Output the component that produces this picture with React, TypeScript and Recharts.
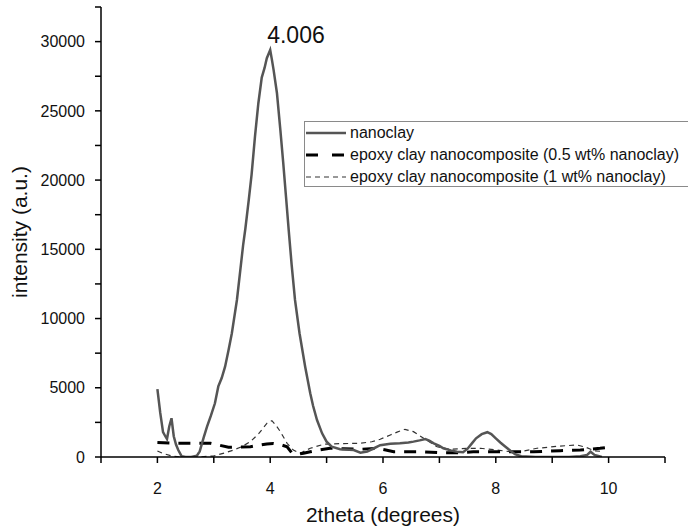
import { CartesianGrid, LabelList, Line, LineChart, XAxis, YAxis } from 'recharts';

// 2theta (degrees) vs intensity (a.u.)
const nanoclay: [number, number][] = [
  [2.0, 4900], [2.05, 3200], [2.1, 1800], [2.14, 1500], [2.17, 1300], [2.21, 2200],
  [2.25, 2800], [2.29, 1500], [2.33, 900], [2.37, 500], [2.43, 50], [2.5, 0],
  [2.6, 0], [2.7, 100], [2.75, 400], [2.82, 1400], [2.88, 2190], [2.95, 3000],
  [3.02, 3880], [3.08, 5100], [3.14, 5700], [3.2, 6520], [3.26, 7700], [3.32, 8940],
  [3.41, 11340], [3.47, 13500], [3.52, 15300], [3.56, 16500], [3.62, 18570], [3.67, 20400],
  [3.73, 23140], [3.79, 25550], [3.85, 27400], [3.9, 28100], [3.94, 28800], [4.0, 29400],
  [4.03, 28700], [4.06, 27960], [4.12, 26270], [4.18, 23620], [4.23, 21300], [4.28, 18800],
  [4.33, 16300], [4.38, 13900], [4.44, 11340], [4.52, 8940], [4.62, 6520], [4.71, 4600],
  [4.76, 3700], [4.83, 2670], [4.92, 1710], [5.0, 1110], [5.09, 740], [5.24, 560],
  [5.48, 500], [5.6, 310], [5.72, 400], [5.85, 650], [5.95, 850], [6.13, 950],
  [6.3, 990], [6.45, 1050], [6.54, 1110], [6.65, 1200], [6.75, 1300], [6.82, 1180],
  [6.9, 990], [7.0, 800], [7.07, 630], [7.2, 480], [7.31, 380], [7.42, 350],
  [7.5, 600], [7.58, 1000], [7.65, 1350], [7.75, 1650], [7.85, 1790], [7.92, 1650],
  [8.0, 1350], [8.08, 1050], [8.16, 780], [8.26, 450], [8.34, 200], [8.45, 50],
  [8.7, 0], [9.0, 0], [9.3, 0], [9.5, 50], [9.62, 150], [9.68, 380],
  [9.75, 150], [9.88, 0],
];

const epoxyHalf: [number, number][] = [
  [2.0, 1050], [2.3, 1000], [2.6, 1000], [2.94, 990], [3.1, 850], [3.26, 700],
  [3.45, 720], [3.65, 740], [3.8, 850], [3.94, 940], [4.05, 980], [4.18, 900],
  [4.3, 740], [4.38, 310], [4.48, 200], [4.59, 270], [4.71, 380], [4.85, 500],
  [5.06, 630], [5.3, 600], [5.6, 560], [5.89, 630], [6.05, 500], [6.19, 380],
  [6.7, 380], [7.0, 310], [7.37, 310], [7.6, 380], [8.2, 380], [8.67, 380],
  [9.14, 460], [9.5, 500], [9.85, 630], [9.95, 680],
];

const epoxyOne: [number, number][] = [
  [2.0, 430], [2.1, 250], [2.26, 70], [2.4, 0], [2.7, 0], [2.99, 70],
  [3.2, 300], [3.35, 500], [3.5, 750], [3.65, 1110], [3.8, 1700], [3.94, 2430],
  [4.03, 2620], [4.1, 2300], [4.18, 1830], [4.3, 990], [4.41, 500], [4.53, 270],
  [4.71, 630], [4.95, 920], [5.3, 970], [5.6, 990], [5.8, 1100], [5.95, 1280],
  [6.13, 1590], [6.25, 1800], [6.39, 2000], [6.54, 1830], [6.72, 1350], [6.96, 740],
  [7.19, 560], [7.49, 630], [7.73, 630], [8.02, 500], [8.26, 380], [8.43, 380],
  [8.73, 630], [9.14, 790], [9.44, 870], [9.6, 700], [9.75, 450], [9.9, 400],
];

const xTicks = [1, 2, 3, 4, 5, 6, 7, 8, 9, 10, 11];
const yTicks = [0, 2500, 5000, 7500, 10000, 12500, 15000, 17500, 20000, 22500, 25000, 27500, 30000, 32500];
const peakLabel = '4.006';

const FONT = '"Liberation Sans", Arial, sans-serif';

const toRows = (pts: [number, number][]) => pts.map(([x, y]) => ({ x, y }));

const peakIndex = nanoclay.reduce((best, p, i) => (p[1] > nanoclay[best][1] ? i : best), 0);

function PeakLabel(props: any) {
  if (props.index !== peakIndex) return null;
  return (
    <text x={props.x - 3} y={props.y - 7} fontSize={23} fontFamily={FONT} fill="#111">
      {peakLabel}
    </text>
  );
}

function LegendBox() {
  const rows = [
    { name: 'nanoclay', stroke: '#555', width: 2.5, dash: undefined },
    { name: 'epoxy clay nanocomposite (0.5 wt% nanoclay)', stroke: '#000', width: 3, dash: '12 14' },
    { name: 'epoxy clay nanocomposite (1 wt% nanoclay)', stroke: '#333', width: 1.2, dash: '5 4' },
  ];
  return (
    <div
      style={{
        position: 'absolute',
        left: 304,
        top: 121,
        width: 400,
        height: 64,
        border: '1px solid #8a8a8a',
        background: '#fff',
        fontFamily: FONT,
        fontSize: 16,
        color: '#111',
      }}
    >
      {rows.map((r) => (
        <div key={r.name} style={{ display: 'flex', alignItems: 'center', height: 22, whiteSpace: 'nowrap' }}>
          <svg width={42} height={22} style={{ flex: 'none' }}>
            <line x1={1} x2={41} y1={11} y2={11} stroke={r.stroke} strokeWidth={r.width} strokeDasharray={r.dash} />
          </svg>
          <span style={{ marginLeft: 3 }}>{r.name}</span>
        </div>
      ))}
    </div>
  );
}

export default function App() {
  return (
    <div style={{ position: 'absolute', left: 0, top: 0, width: 688, height: 529, overflow: 'hidden', background: '#fff' }}>
      <LineChart width={688} height={529} margin={{ top: 7, right: 23, bottom: 42, left: 41 }}>
        <CartesianGrid stroke="none" />
        <XAxis
          dataKey="x"
          type="number"
          domain={[1, 11]}
          ticks={xTicks}
          interval={0}
          height={30}
          tickFormatter={(v: number) => (v % 2 === 0 ? String(v) : '')}
          tick={{ fontSize: 16, fill: '#111', fontFamily: FONT }}
          tickMargin={20}
          tickSize={6}
          axisLine={{ stroke: '#000', strokeWidth: 1.5 }}
          tickLine={{ stroke: '#000', strokeWidth: 1.5 }}
          allowDataOverflow
        />
        <YAxis
          type="number"
          domain={[0, 32500]}
          ticks={yTicks}
          interval={0}
          width={60}
          tickFormatter={(v: number) => (v % 5000 === 0 ? String(v) : '')}
          tick={{ fontSize: 16, fill: '#111', fontFamily: FONT }}
          tickMargin={10}
          tickSize={6}
          axisLine={{ stroke: '#000', strokeWidth: 1.5 }}
          tickLine={{ stroke: '#000', strokeWidth: 1.5 }}
          allowDataOverflow
        />
        <Line
          data={toRows(epoxyOne)}
          dataKey="y"
          type="linear"
          stroke="#333"
          strokeWidth={1.2}
          strokeDasharray="5 4"
          dot={false}
          activeDot={false}
          isAnimationActive={false}
        />
        <Line
          data={toRows(epoxyHalf)}
          dataKey="y"
          type="linear"
          stroke="#000"
          strokeWidth={3}
          strokeDasharray="12 9"
          dot={false}
          activeDot={false}
          isAnimationActive={false}
        />
        <Line
          data={toRows(nanoclay)}
          dataKey="y"
          type="linear"
          stroke="#555"
          strokeWidth={2.5}
          dot={false}
          activeDot={false}
          isAnimationActive={false}
        >
          <LabelList dataKey="y" content={PeakLabel} />
        </Line>
      </LineChart>

      {/* axis titles */}
      <svg width={688} height={529} style={{ position: 'absolute', left: 0, top: 0, pointerEvents: 'none' }}>
        <text x={383} y={522} textAnchor="middle" fontSize={21} fontFamily={FONT} fill="#111">
          2theta (degrees)
        </text>
        <text
          x={19}
          y={232}
          transform="rotate(-90 19 232)"
          textAnchor="middle"
          dominantBaseline="central"
          fontSize={21}
          fontFamily={FONT}
          fill="#111"
        >
          intensity (a.u.)
        </text>
      </svg>

      <LegendBox />
    </div>
  );
}
